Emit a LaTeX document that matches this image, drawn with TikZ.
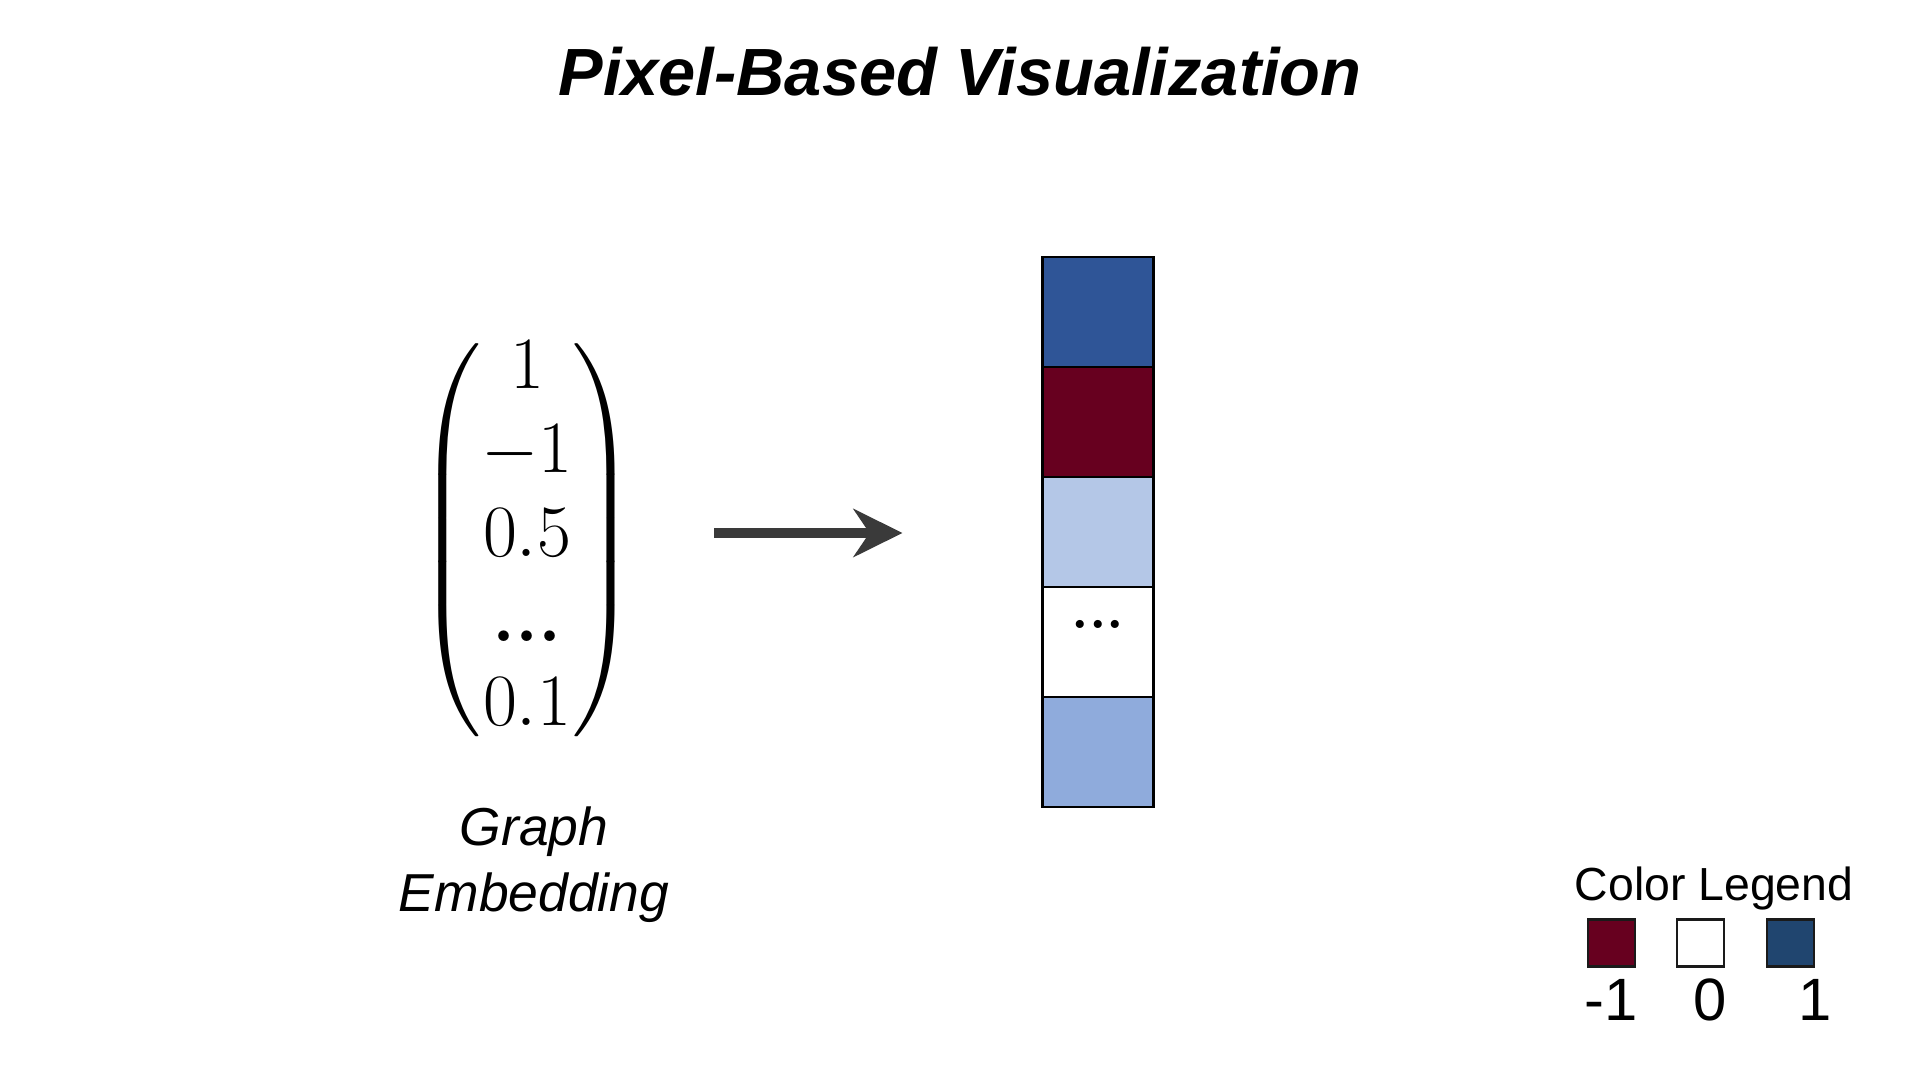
\documentclass[tikz,border=0pt]{standalone}
\usepackage{fix-cm}
\usepackage{amsmath}
\usepackage{fontspec}
\newfontfamily\sansf{Liberation Sans}
\usetikzlibrary{arrows.meta,positioning}

\definecolor{blueHigh}{HTML}{2F5597}
\definecolor{redLow}{HTML}{67001F}
\definecolor{blueLight}{HTML}{B4C7E7}
\definecolor{blueMid}{HTML}{8FABDC}
\definecolor{legBlue}{HTML}{20456F}
\definecolor{arrowGray}{HTML}{3A3A3A}
\definecolor{legLine}{HTML}{1A1A1A}

\tikzset{
    pixel/.style={draw=black, line width=0.6pt, minimum width=1.11cm, minimum height=1.10cm, inner sep=0pt, outer sep=0pt},
    legbox/.style={draw=legLine, line width=0.7pt, minimum size=0.47cm, inner sep=0pt},
    flow/.style={draw=arrowGray, line width=2.85pt, -{Stealth[length=4.9mm, width=4.8mm, inset=1.6mm]}},
    legtext/.style={anchor=base, font=\sansf\fontsize{17}{20}\selectfont}
}

\begin{document}
\begin{tikzpicture}
    \useasboundingbox [fill=white] (0,0) rectangle (19.2,10.8);
    \node (title) [anchor=base, font=\sansf\bfseries\itshape\fontsize{19}{23}\selectfont] at (9.60,9.84) {Pixel-Based Visualization};
    % embedding vector
    \node (emb) at (5.27,5.40) {\fontsize{21}{24}\selectfont\delimiterfactor=880 \delimitershortfall=20pt
        $\begin{pmatrix}1\\-1\\0.5\\\text{\bfseries...}\\0.1\end{pmatrix}$};
    \node (embname) [align=center, font=\sansf\itshape\fontsize{15.2}{18.8}\selectfont] at (5.34,2.15) {Graph\\Embedding};
    % pixels
    \node (cell1) [pixel, fill=blueHigh] at (10.98,7.68) {};
    \node (cell2) [pixel, fill=redLow, below=0pt of cell1] {};
    \node (cell3) [pixel, fill=blueLight, below=0pt of cell2] {};
    \node (cell4) [pixel, fill=white, below=0pt of cell3] {};
    \node (cell5) [pixel, fill=blueMid, below=0pt of cell4] {};
    \node (dots) [font=\bfseries\fontsize{16}{18}\selectfont] at ([yshift=0.18cm]cell4.center) {...};
    \coordinate (flowstart) at (7.14,5.47);
    \draw [flow, shorten >=1.40cm] (flowstart) -- (flowstart -| cell3.west);
    % legend
    \node (legtitle) [anchor=base, font=\sansf\fontsize{13.2}{16}\selectfont] at (17.14,1.79) {Color Legend};
    \node (legneg) [legbox, fill=redLow] at (16.115,1.37) {};
    \node (legzero) [legbox, fill=white] at (17.005,1.37) {};
    \node (legpos) [legbox, fill=legBlue] at (17.905,1.37) {};
    \node (negval) [legtext] at (16.11,0.59) {-1};
    \node (zeroval) [legtext] at (17.10,0.59) {0};
    \node (posval) [legtext] at (18.15,0.59) {1};
\end{tikzpicture}
\end{document}
